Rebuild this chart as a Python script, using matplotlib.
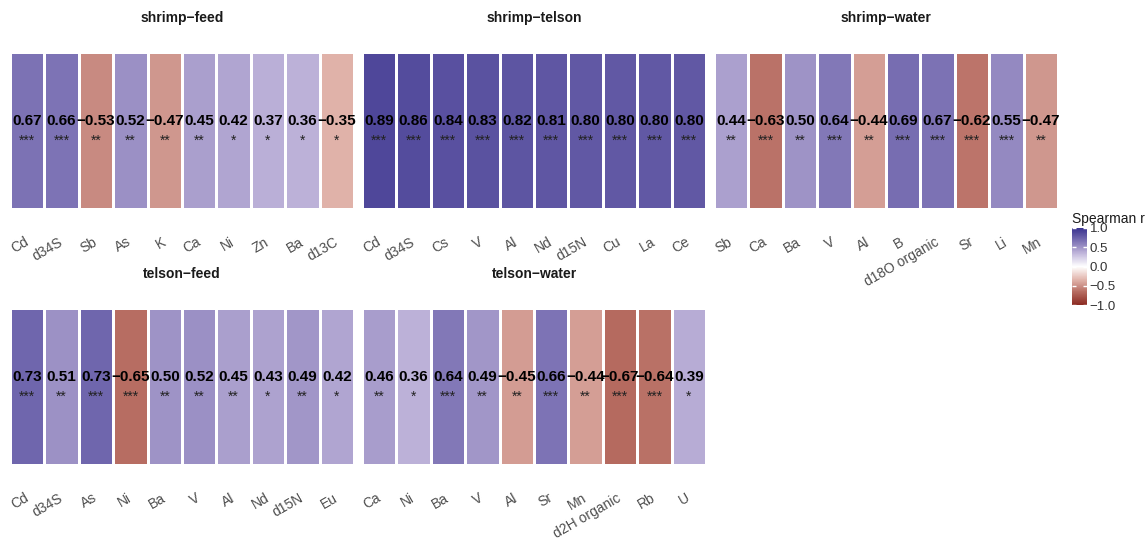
import numpy as np
import matplotlib
matplotlib.use("Agg")
import matplotlib.pyplot as plt
from matplotlib.colors import LinearSegmentedColormap, Normalize
import matplotlib.transforms as mtransforms

plt.rcParams['font.family'] = ['Liberation Sans', 'DejaVu Sans']

# ========= DATA =========
titles = ["shrimp\u2212feed", "shrimp\u2212telson", "shrimp\u2212water",
          "telson\u2212feed", "telson\u2212water"]

sf_vars = ["Cd", "d34S", "Sb", "As", "K", "Ca", "Ni", "Zn", "Ba", "d13C"]
sf_r = [0.67, 0.66, -0.53, 0.52, -0.47, 0.45, 0.42, 0.37, 0.36, -0.35]
sf_sig = ["***", "***", "**", "**", "**", "**", "*", "*", "*", "*"]

st_vars = ["Cd", "d34S", "Cs", "V", "Al", "Nd", "d15N", "Cu", "La", "Ce"]
st_r = [0.89, 0.86, 0.84, 0.83, 0.82, 0.81, 0.80, 0.80, 0.80, 0.80]
st_sig = ["***"] * 10

sw_vars = ["Sb", "Ca", "Ba", "V", "Al", "B", "d18O organic", "Sr", "Li", "Mn"]
sw_r = [0.44, -0.63, 0.50, 0.64, -0.44, 0.69, 0.67, -0.62, 0.55, -0.47]
sw_sig = ["**", "***", "**", "***", "**", "***", "***", "***", "***", "**"]

tf_vars = ["Cd", "d34S", "As", "Ni", "Ba", "V", "Al", "Nd", "d15N", "Eu"]
tf_r = [0.73, 0.51, 0.73, -0.65, 0.50, 0.52, 0.45, 0.43, 0.49, 0.42]
tf_sig = ["***", "**", "***", "***", "**", "**", "**", "*", "**", "*"]

tw_vars = ["Ca", "Ni", "Ba", "V", "Al", "Sr", "Mn", "d2H organic", "Rb", "U"]
tw_r = [0.46, 0.36, 0.64, 0.49, -0.45, 0.66, -0.44, -0.67, -0.64, 0.39]
tw_sig = ["**", "*", "***", "**", "**", "***", "**", "***", "***", "*"]

panels = [(sf_vars, sf_r, sf_sig), (st_vars, st_r, st_sig), (sw_vars, sw_r, sw_sig),
          (tf_vars, tf_r, tf_sig), (tw_vars, tw_r, tw_sig)]

# ========= COLORS =========
stops = [(-1.0, "#8b2a22"), (-0.65, "#b86e63"), (-0.5, "#cc9188"), (-0.35, "#e0b2a9"),
         (0.0, "#ffffff"), (0.36, "#bdb2d9"), (0.5, "#9f94c7"), (0.67, "#7c72b4"),
         (0.89, "#4f479a"), (1.0, "#3b3590")]
cmap = LinearSegmentedColormap.from_list("spear", [((v + 1) / 2, c) for v, c in stops])
norm = Normalize(-1, 1)

# ========= FIGURE =========
W, H = 1148, 538
fig = plt.figure(figsize=(W / 100, H / 100), dpi=100)

col_x = [10, 362, 714]
row_top = [52, 308]
pw, ph = 344, 157

mesh = None
for i, (vars_, r, sig) in enumerate(panels):
    row, col = divmod(i, 3)
    x0 = col_x[col]
    top = row_top[row]
    ax = fig.add_axes([x0 / W, 1 - (top + ph) / H, pw / W, ph / H])
    n = len(vars_)
    mesh = ax.pcolormesh(np.arange(n + 1) - 0.5, [0, 1], np.array([r]), cmap=cmap, norm=norm,
                         edgecolors="white", linewidth=1.8)
    for j in range(n):
        lab = f"{r[j]:.2f}".replace("-", "\u2212")
        ax.text(j, 0.535, lab, ha="center", va="baseline", fontsize=11,
                fontweight="bold", color="black")
        ax.text(j, 0.41, sig[j], ha="center", va="baseline", fontsize=10, color="#222222")
    ax.set_xlim(-0.5, n - 0.5)
    ax.set_ylim(0, 1)
    ax.set_yticks([])
    ax.set_xticks(range(n))
    ax.set_xticklabels(vars_, rotation=30, ha="right", va="center", rotation_mode="anchor",
                       fontsize=10, color="#4d4d4d")
    off = mtransforms.ScaledTranslation(4 / 100, -2 / 100, fig.dpi_scale_trans)
    for t in ax.get_xticklabels():
        t.set_transform(t.get_transform() + off)
    ax.tick_params(axis="x", length=0, pad=23)
    for s in ax.spines.values():
        s.set_visible(False)
    ax.text(0.5, 1 + 34 / ph, titles[i], transform=ax.transAxes, ha="center", va="center",
            fontsize=10, fontweight="bold", color="#1a1a1a")

# ========= LEGEND =========
cax = fig.add_axes([1072 / W, 1 - 305 / H, 15 / W, 77 / H])
cb = fig.colorbar(mesh, cax=cax, ticks=[-1, -0.5, 0, 0.5, 1])
cb.outline.set_visible(False)
cb.ax.set_yticklabels(["\u22121.0", "\u22120.5", "0.0", "0.5", "1.0"])
cb.ax.tick_params(direction="in", color="white", length=3, width=1, labelsize=9.5,
                  labelcolor="#333333", pad=2, left=True, right=True)
fig.text(1072 / W, 1 - 219 / H, "Spearman r", ha="left", va="center", fontsize=10,
         color="#1a1a1a")

fig.savefig("out.png", dpi=100, facecolor="white")
